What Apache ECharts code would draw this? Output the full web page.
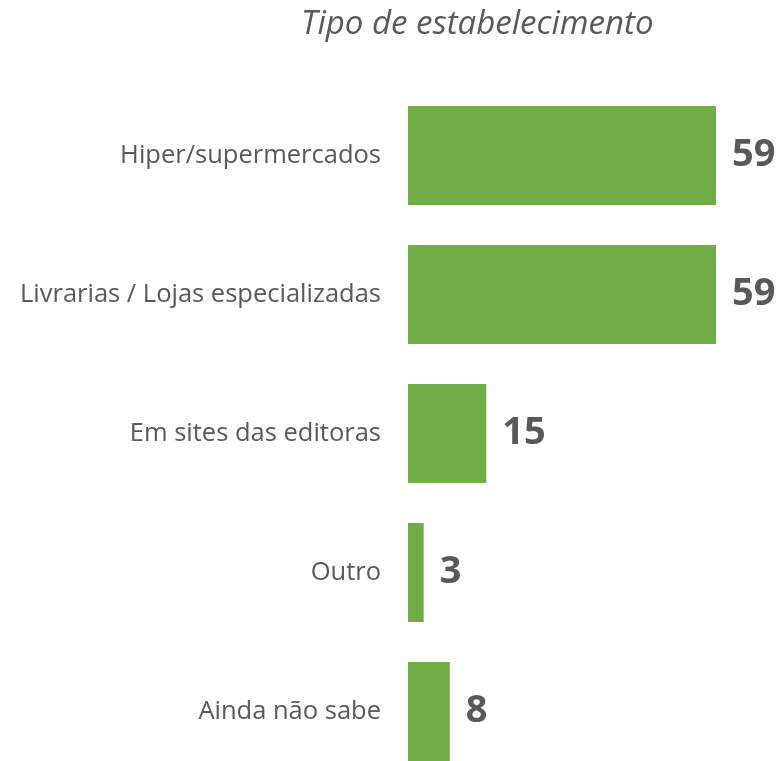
<!DOCTYPE html>
<html>
<head>
<meta charset="utf-8">
<script src="https://cdn.jsdelivr.net/npm/echarts@6/dist/echarts.min.js"></script>
<style>
  html, body { margin: 0; padding: 0; background: #fff; overflow: hidden; }
  /* a última barra fica cortada na imagem original, por isso o gráfico é mais alto que a janela */
  #chart { width: 782px; height: 781px; }
</style>
</head>
<body>
<div id="chart"></div>
<script>
// dados
const categories = ['Hiper/supermercados', 'Livrarias / Lojas especializadas', 'Em sites das editoras', 'Outro', 'Ainda não sabe']
const values = [59, 59, 15, 3, 8]

const textColor = '#595959'
const font = 'Open Sans'

const chart = echarts.init(document.getElementById('chart'))
chart.setOption({
  animation: false,
  title: {
    text: 'Tipo de estabelecimento',
    left: 296,
    top: 3,
    textStyle: {
      fontFamily: font,
      fontStyle: 'italic',
      fontWeight: 'normal',
      fontSize: 33,
      color: textColor
    }
  },
  grid: {
    left: 408,
    right: 66,
    top: 86,
    bottom: 0,
    containLabel: false
  },
  xAxis: {
    type: 'value',
    min: 0,
    max: 59,
    show: false
  },
  yAxis: {
    type: 'category',
    inverse: true,
    data: categories,
    axisLine: { show: false },
    axisTick: { show: false },
    axisLabel: {
      margin: 27,
      fontFamily: font,
      fontSize: 25.5,
      color: textColor
    }
  },
  series: [{
    type: 'bar',
    data: values,
    barCategoryGap: '28.8%',
    itemStyle: { color: '#70AD47' },
    label: {
      show: true,
      position: 'right',
      distance: 16,
      fontFamily: font,
      fontWeight: 'bold',
      fontSize: 38,
      color: textColor
    }
  }]
})
</script>
</body>
</html>
